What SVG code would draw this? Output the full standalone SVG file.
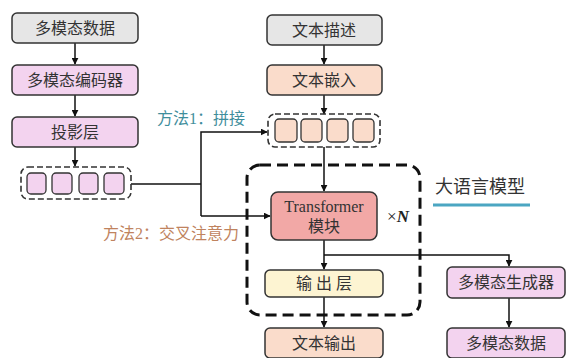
<svg xmlns="http://www.w3.org/2000/svg" width="566" height="358" viewBox="0 0 566 358">
<defs>
<marker id="ah" viewBox="0 0 10 10" refX="9" refY="5" markerWidth="7" markerHeight="7" markerUnits="userSpaceOnUse" orient="auto"><path d="M0,0 L10,5 L0,10 z" fill="#111"/></marker>
<style>
.box{stroke:#333;stroke-width:1.5}
.grey{fill:#e6e6e6}.pink{fill:#f3d3ef}.peach{fill:#fadccb}.salmon{fill:#f2a8a6}.yellow{fill:#fdf4d2}
.t{font-family:"Liberation Serif","Noto Sans CJK SC",serif;font-size:16px;fill:#333;text-anchor:middle}
.c{fill:none;stroke:#111;stroke-width:1.5}
.dash{fill:none;stroke:#333;stroke-width:1.6;stroke-dasharray:6 3}
.sq{stroke:#333;stroke-width:1.3}
</style>
</defs>
<rect width="566" height="358" fill="#fff"/>

<g id="connectors">
<path class="c" d="M75,43 V64" marker-end="url(#ah)"/>
<path class="c" d="M75,95 V116" marker-end="url(#ah)"/>
<path class="c" d="M75,147 V166" marker-end="url(#ah)"/>
<path class="c" d="M131,184 H201"/>
<path class="c" d="M201,216 V132 H267" marker-end="url(#ah)"/>
<path class="c" d="M201,216 H270" marker-end="url(#ah)"/>
<path class="c" d="M324,45 V64" marker-end="url(#ah)"/>
<path class="c" d="M324,95 V114" marker-end="url(#ah)"/>
<path class="c" d="M324,147 V191" marker-end="url(#ah)"/>
<path class="c" d="M324,240 V269" marker-end="url(#ah)"/>
<path class="c" d="M324,255 H509 V266" marker-end="url(#ah)"/>
<path class="c" d="M324,297 V327" marker-end="url(#ah)"/>
<path class="c" d="M509,298 V327" marker-end="url(#ah)"/>
</g>

<g id="llm">
<rect x="247" y="165" width="173" height="150" rx="13" fill="none" stroke="#111" stroke-width="3" stroke-dasharray="11 6"/>
<text x="398" y="222" font-family="Liberation Serif,serif" font-size="17" fill="#222" text-anchor="middle">×<tspan font-weight="bold" font-style="italic">N</tspan></text>
</g>

<g id="llm-label">
<text x="480" y="193" font-family="Noto Sans CJK SC,sans-serif" font-size="18" fill="#333" text-anchor="middle">大语言模型</text>
<line x1="433" y1="205" x2="530" y2="205" stroke="#4ba6c2" stroke-width="3"/>
</g>

<g id="mm-data-in"><rect class="box grey" x="12" y="13" width="126" height="30" rx="5"/><text class="t" x="75" y="34">多模态数据</text></g>
<g id="mm-encoder"><rect class="box pink" x="12" y="65" width="126" height="30" rx="5"/><text class="t" x="75" y="86">多模态编码器</text></g>
<g id="projection"><rect class="box pink" x="12" y="117" width="126" height="30" rx="5"/><text class="t" x="75" y="138">投影层</text></g>
<g id="mm-tokens">
<rect class="dash" x="21" y="167" width="110" height="32" rx="7"/>
<rect class="sq pink" x="27" y="173" width="19" height="21" rx="4"/>
<rect class="sq pink" x="52" y="173" width="20" height="21" rx="4"/>
<rect class="sq pink" x="79" y="173" width="19" height="21" rx="4"/>
<rect class="sq pink" x="104" y="173" width="20" height="21" rx="4"/>
</g>

<g id="text-desc"><rect class="box grey" x="267" y="15" width="115" height="30" rx="5"/><text class="t" x="324" y="36">文本描述</text></g>
<g id="text-embed"><rect class="box peach" x="267" y="65" width="115" height="30" rx="5"/><text class="t" x="324" y="86">文本嵌入</text></g>
<g id="text-tokens">
<rect class="dash" x="268" y="114" width="112" height="33" rx="7"/>
<rect class="sq peach" x="275" y="119" width="22" height="23" rx="4"/>
<rect class="sq peach" x="301" y="119" width="21" height="23" rx="4"/>
<rect class="sq peach" x="327" y="119" width="21" height="23" rx="4"/>
<rect class="sq peach" x="353" y="119" width="21" height="23" rx="4"/>
</g>

<g id="transformer"><rect class="box salmon" x="271" y="192" width="106" height="48" rx="7"/><text class="t" x="324" y="212">Transformer</text><text class="t" x="324" y="232">模块</text></g>
<g id="output-layer"><rect class="box yellow" x="265" y="270" width="118" height="27" rx="5"/><text class="t" x="324" y="289">输 出 层</text></g>
<g id="text-out"><rect class="box peach" x="265" y="328" width="118" height="30" rx="5"/><text class="t" x="324" y="349">文本输出</text></g>
<g id="mm-gen"><rect class="box pink" x="447" y="267" width="118" height="31" rx="5"/><text class="t" x="506" y="288">多模态生成器</text></g>
<g id="mm-data-out"><rect class="box pink" x="447" y="328" width="118" height="30" rx="5"/><text class="t" x="506" y="349">多模态数据</text></g>

<g id="labels">
<text x="157" y="124" font-family="Liberation Serif,Noto Sans CJK SC,serif" font-size="16" fill="#3f8e9c">方法1：拼接</text>
<text x="103" y="239" font-family="Liberation Serif,Noto Sans CJK SC,serif" font-size="16" fill="#c0835e">方法2：交叉注意力</text>
</g>
</svg>
